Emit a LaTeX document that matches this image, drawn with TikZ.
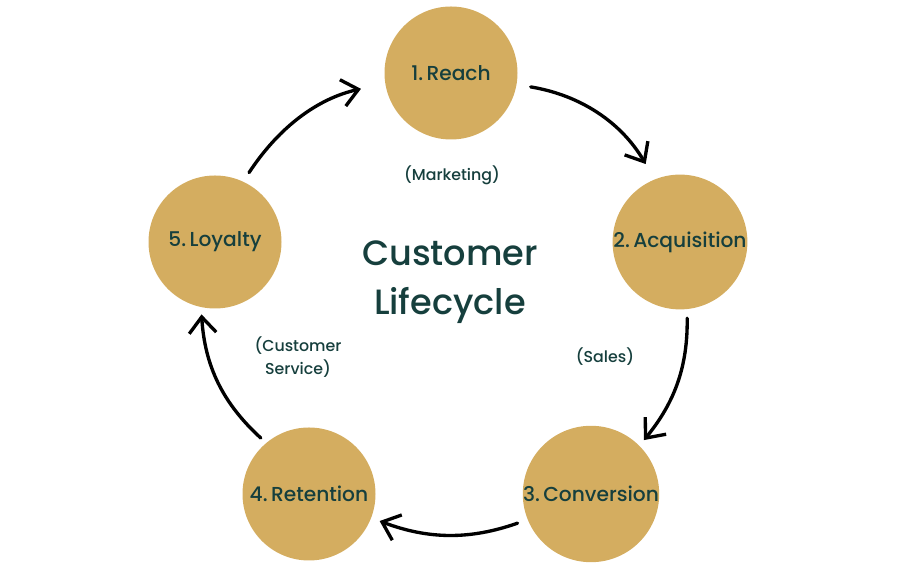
\documentclass[tikz,border=0pt]{standalone}
\usepackage{fontspec}
\setmainfont{Poppins}[UprightFont={* Medium}]
\usepackage{tikz}
\usetikzlibrary{arrows.meta}
\usepackage{xcolor}
\definecolor{gold}{HTML}{D4AD60}
\definecolor{ink}{HTML}{163F3D}

\begin{document}
\begin{tikzpicture}[>={Straight Barb[length=3.2mm,width=5.4mm]},line cap=round,
  stage/.style={circle,fill=gold,minimum size=2.66cm,inner sep=0pt,text=ink,font=\fontsize{11.5}{13}\selectfont},
  cyc/.style={->,line width=1.9pt,shorten <=4pt,shorten >=4pt},
  note/.style={text=ink,font=\fontsize{9}{13}\selectfont,align=center}]
\useasboundingbox (0,0) rectangle (18,11.26);
\node[stage] (reach) at (9.02,9.80) {1.\,Reach};
\node[stage] (acq) at (13.60,6.42) {2.\,Acquisition};
\node[stage] (conv) at (11.82,1.38) {3.\,Conversion};
\node[stage] (ret) at (6.18,1.38) {4.\,Retention};
\node[stage] (loy) at (4.30,6.42) {5.\,Loyalty};
\node[text=ink,font=\fontsize{20}{28}\selectfont,align=center] (title) at (9.0,5.62) {Customer\\Lifecycle};
\node[note] (mkt) at (9.04,7.76) {(Marketing)};
\node[note] (sales) at (12.10,4.12) {(Sales)};
\node[note] (serv) at (5.96,4.12) {(Customer\\Service)};
% arrows round the cycle
\draw[cyc,shorten <=8pt,shorten >=10pt] (reach.-10) to[bend left=25] (acq.112);
\draw[cyc,shorten <=5pt] (acq.-84) to[bend left=20] (conv.45);
\draw[cyc,shorten <=6pt,shorten >=5pt] (conv.202) to[bend left=20] (ret.-21);
\draw[cyc] (ret.130) to[bend left=22] (loy.-102);
\draw[cyc,shorten <=6pt,shorten >=14pt] (loy.65) to[bend left=22] (reach.189);
\end{tikzpicture}
\end{document}
